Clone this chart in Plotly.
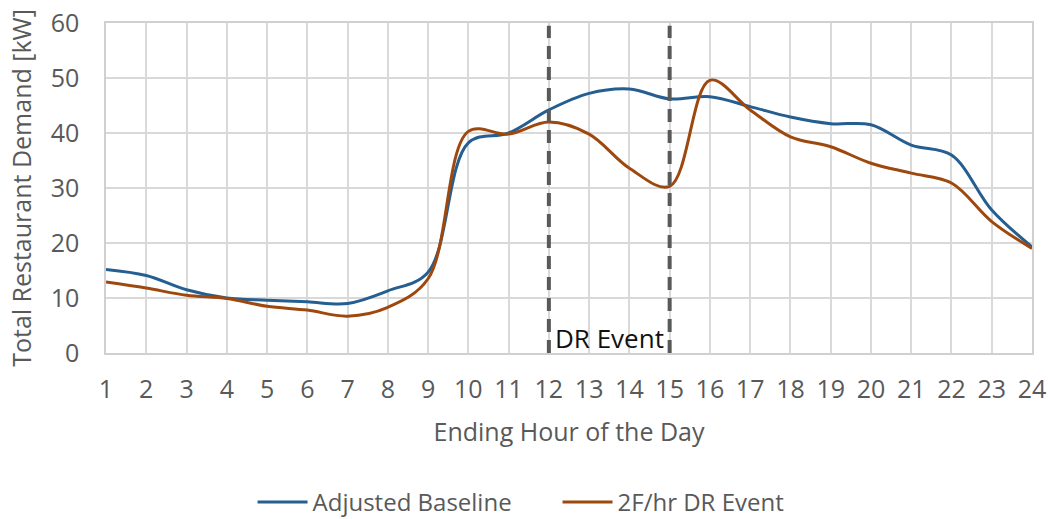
import plotly.graph_objects as go

hours = list(range(1, 25))
baseline = [15.2, 14.1, 11.5, 10.0, 9.6, 9.3, 9.0, 11.3, 14.7, 38.2, 40.0, 44.2,
            47.2, 48.0, 46.2, 46.6, 44.8, 42.9, 41.7, 41.5, 37.8, 36.0, 26.0, 19.3]
dr_event = [12.9, 11.8, 10.5, 9.9, 8.5, 7.8, 6.7, 8.3, 13.5, 40.3, 39.8, 42.0,
            39.8, 33.6, 30.3, 49.6, 44.2, 39.3, 37.5, 34.5, 32.7, 30.9, 23.9, 19.0]
event_bounds = [12, 15]
event_label = "DR Event"

grey = "#595959"
font_family = "Open Sans"

fig = go.Figure()
fig.add_trace(go.Scatter(x=hours, y=baseline, mode="lines", name="Adjusted Baseline",
                         line=dict(color="#255E91", width=3, shape="spline", smoothing=1)))
fig.add_trace(go.Scatter(x=hours, y=dr_event, mode="lines", name="2F/hr DR Event",
                         line=dict(color="#9E480E", width=3, shape="spline", smoothing=1)))

for xb in event_bounds:
    fig.add_shape(type="line", xref="x", yref="y", x0=xb, x1=xb, y0=0, y1=59.5,
                  line=dict(color=grey, width=4, dash="13px,8px"))

fig.add_annotation(x=sum(event_bounds) / 2, y=2.7, xref="x", yref="y", text=event_label,
                   showarrow=False, font=dict(family=font_family, size=26, color="#111111"))

fig.update_layout(
    width=1048, height=519,
    margin=dict(l=106, r=16, t=23, b=166, autoexpand=False),
    plot_bgcolor="white", paper_bgcolor="white",
    font=dict(family=font_family, color=grey, size=25),
    showlegend=True,
    legend=dict(orientation="h", xref="container", yref="container", x=0.532, xanchor="center",
                y=0.032, yanchor="middle", itemwidth=50,
                entrywidth=240, entrywidthmode="pixels",
                font=dict(size=24, color=grey), tracegroupgap=0),
)
fig.update_xaxes(range=[1, 24], tickvals=hours, ticktext=[str(h) for h in hours],
                 showgrid=True, gridcolor="#d9d9d9", gridwidth=1.5,
                 showline=True, linecolor="#d0d0d0", linewidth=1.5, mirror=True,
                 zeroline=False, tickfont=dict(size=25, color=grey),
                 ticklabelstandoff=13,
                 title=dict(text="Ending Hour of the Day", font=dict(size=25, color=grey), standoff=20))
fig.update_yaxes(range=[0, 60], tickvals=[0, 10, 20, 30, 40, 50, 60],
                 showgrid=True, gridcolor="#d9d9d9", gridwidth=1.5,
                 showline=True, linecolor="#d0d0d0", linewidth=1.5, mirror=True,
                 zeroline=False, tickfont=dict(size=25, color=grey),
                 ticklabelstandoff=20,
                 title=dict(text="Total Restaurant Demand [kW]", font=dict(size=25, color=grey), standoff=12))

fig.write_html("out.html")
